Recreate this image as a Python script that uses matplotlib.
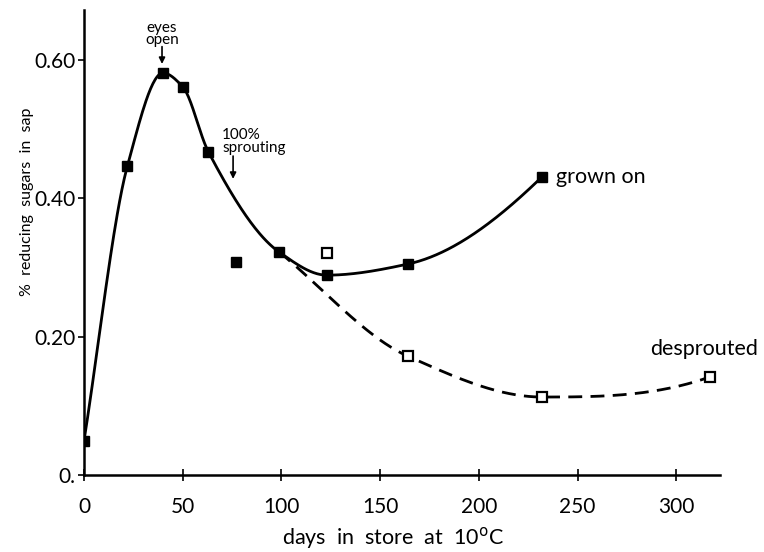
import numpy as np
import matplotlib
matplotlib.use("Agg")
import matplotlib.pyplot as plt

# ── Data ──────────────────────────────────────────────────────────────────────

# grown on: points the solid curve goes through
grown_days  = [0, 22, 40, 50, 63, 99, 123, 164, 232]
grown_sugar = [0.05, 0.447, 0.581, 0.561, 0.467, 0.322, 0.289, 0.305, 0.431]

# grown on: point left off the curve
grown_off_days  = [77]
grown_off_sugar = [0.308]

# desprouted: dashed curve branches off the grown-on curve at day 99
desprout_days  = [99, 164, 232, 317]
desprout_sugar = [0.322, 0.172, 0.113, 0.142]

# desprouted: open-square point left off the curve
desprout_off_days  = [123]
desprout_off_sugar = [0.321]

x_ticks = [0, 50, 100, 150, 200, 250, 300]
y_ticks = [0.0, 0.20, 0.40, 0.60]
y_tick_labels = ["0.", "0.20", "0.40", "0.60"]


# ── Smooth curve helper (monotone cubic, for drawing only) ────────────────────

def _end_slope(h0, h1, d0, d1):
    m = ((2 * h0 + h1) * d0 - h0 * d1) / (h0 + h1)
    if np.sign(m) != np.sign(d0):
        m = 0.0
    elif np.sign(d0) != np.sign(d1) and abs(m) > abs(3 * d0):
        m = 3 * d0
    return m


def pchip_path(xs, ys, n=400):
    x = np.asarray(xs, float)
    y = np.asarray(ys, float)
    h = np.diff(x)
    d = np.diff(y) / h
    m = np.zeros_like(y)
    for k in range(1, len(x) - 1):
        if d[k - 1] * d[k] > 0:
            w1 = 2 * h[k] + h[k - 1]
            w2 = h[k] + 2 * h[k - 1]
            m[k] = (w1 + w2) / (w1 / d[k - 1] + w2 / d[k])
    m[0] = d[0]
    m[-1] = _end_slope(h[-1], h[-2], d[-1], d[-2])
    xx = np.linspace(x[0], x[-1], n)
    idx = np.clip(np.searchsorted(x, xx) - 1, 0, len(x) - 2)
    t = (xx - x[idx]) / h[idx]
    h00 = 2 * t**3 - 3 * t**2 + 1
    h10 = t**3 - 2 * t**2 + t
    h01 = -2 * t**3 + 3 * t**2
    h11 = t**3 - t**2
    yy = (h00 * y[idx] + h10 * h[idx] * m[idx]
          + h01 * y[idx + 1] + h11 * h[idx] * m[idx + 1])
    return xx, yy


plt.rcParams["font.family"] = ["Lato", "DejaVu Sans"]

fig = plt.figure(figsize=(7.64, 5.52), dpi=100)
ax = fig.add_axes([0.110, 0.139, 0.832, 0.843])

# curves
cx, cy = pchip_path(grown_days, grown_sugar)
ax.plot(cx, cy, color="black", lw=2.0, zorder=2)
dx, dy = pchip_path(desprout_days, desprout_sugar)
ax.plot(dx, dy, color="black", lw=2.0, linestyle=(0, (5, 3)), zorder=2)

# markers
ax.plot(grown_days, grown_sugar, "s", color="black", ms=7, zorder=3)
ax.plot(grown_off_days, grown_off_sugar, "s", color="black", ms=7, zorder=3)
ax.plot(desprout_days[1:], desprout_sugar[1:], "s", mfc="white", mec="black",
        mew=1.6, ms=6.5, zorder=3)
ax.plot(desprout_off_days, desprout_off_sugar, "s", mfc="white", mec="black",
        mew=1.6, ms=6.5, zorder=3)

# labels on the curves
ax.text(239, 0.431, "grown on", fontsize=15.5, va="center", ha="left")
ax.text(287, 0.182, "desprouted", fontsize=15.5, va="center", ha="left")

# event annotations
arrow = dict(arrowstyle="-|>", color="black", lw=1.2, mutation_scale=9,
             shrinkA=0, shrinkB=0)
ax.annotate("", xy=(39.5, 0.594), xytext=(39.5, 0.619), arrowprops=arrow)
ax.text(39.5, 0.619, "eyes\nopen", ha="center", va="bottom", fontsize=11,
        linespacing=0.75)
ax.annotate("", xy=(75.5, 0.428), xytext=(75.5, 0.461), arrowprops=arrow)
ax.text(70, 0.463, "100%\nsprouting", ha="left", va="bottom", fontsize=11,
        linespacing=0.85)

# axes styling
ax.set_xlim(0, 322)
ax.set_ylim(0, 0.672)
ax.spines["top"].set_visible(False)
ax.spines["right"].set_visible(False)
for sp in ("left", "bottom"):
    ax.spines[sp].set_linewidth(1.8)

ax.set_xticks(x_ticks)
ax.set_yticks(y_ticks)
ax.set_yticklabels(y_tick_labels)
ax.tick_params(axis="x", direction="inout", length=8, width=1.2,
               labelsize=15, pad=12)
ax.tick_params(axis="y", direction="out", length=4, width=1.2,
               labelsize=15, pad=2)

fig.text(393 / 764, 1 - 538 / 552, "days  in  store  at  10$^{\\rm o}$C",
         fontsize=15.5, ha="center", va="center")
fig.text(27 / 764, 1 - 202 / 552, "%  reducing  sugars  in  sap",
         fontsize=11.5, rotation=90, ha="center", va="center")

fig.savefig("out.png", dpi=100)
